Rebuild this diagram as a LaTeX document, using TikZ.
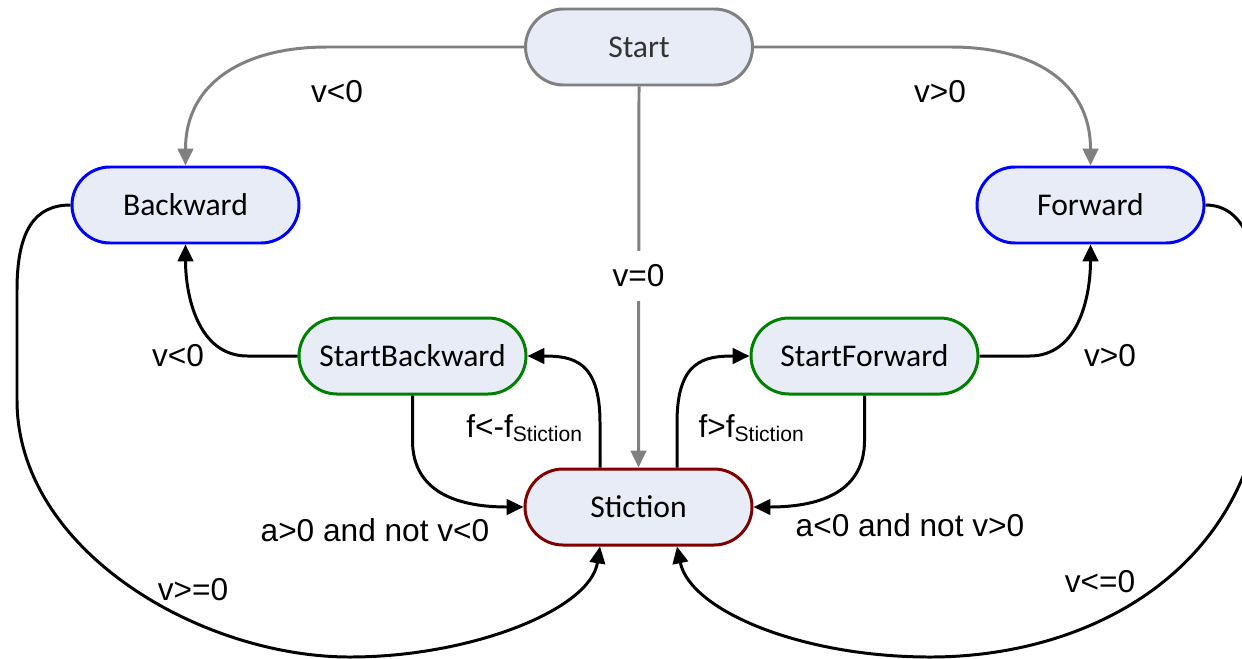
\documentclass[tikz,border=0pt]{standalone}
\usepackage{fontspec}
\usepackage{xcolor}
\usepackage{tikz}
\usetikzlibrary{arrows.meta,positioning,calc}
\newfontfamily\statefont{Carlito}
\newfontfamily\guardfont{Liberation Sans}
\definecolor{statefill}{RGB}{231,236,246}
\definecolor{stictionred}{RGB}{128,0,0}
\definecolor{startgreen}{RGB}{0,128,0}

\begin{document}
\begin{tikzpicture}[
    >={Triangle[length=4.8pt,width=4.4pt]},
    flow/.style={->,line width=0.85pt,draw=black},
    entry/.style={->,line width=0.85pt,draw=black!50,color=black!50},
    state/.style={draw,line width=0.85pt,fill=statefill,rounded corners=3.8mm,
      minimum width=2.27cm,minimum height=0.76cm,inner sep=0pt,
      font=\statefont\fontsize{9}{11}\selectfont},
    guard/.style={font=\guardfont\fontsize{9}{11}\selectfont,inner sep=1pt}
  ]
    \useasboundingbox (0,0) rectangle (12.42,-6.58);

    % States.
    \node[state,draw=black!50,text=black!80] (start) at (6.39,-0.47) {Start};
    \node[state,draw=blue] (backward) at (1.855,-2.05) {Backward};
    \node[state,draw=blue] (forward) at (10.905,-2.05) {Forward};
    \node[state,draw=startgreen] (startbwd) at (4.125,-3.56) {StartBackward};
    \node[state,draw=startgreen] (startfwd) at (8.645,-3.56) {StartForward};
    \node[state,draw=stictionred] (stiction) at (6.385,-5.07) {Stiction};

    % Leaving Start.
    \draw[entry] (start.west) -- ++(-1.97,0)
      .. controls +(-0.8,0) and +(0,0.85) .. (backward.north);
    \draw[entry] (start.east) -- ++(1.97,0)
      .. controls +(0.8,0) and +(0,0.85) .. (forward.north);
    \draw[entry] (start.south) -- (stiction.north);
    \node[guard] (lstartbwd) at (3.37,-0.92) {v<0};
    \node[guard] (lstartfwd) at (9.40,-0.92) {v>0};
    \node[guard,fill=white,inner ysep=4pt] (lstartstc) at (6.385,-2.76) {v=0};

    % StartBackward / StartForward to moving states.
    \draw[flow] (startbwd.west) -- ++(-0.5,0)
      .. controls +(-0.5,0) and +(0,-0.5) .. (backward.south);
    \draw[flow] (startfwd.east) -- ++(0.5,0)
      .. controls +(0.5,0) and +(0,-0.5) .. (forward.south);
    \node[guard] (lsbwd) at (1.78,-3.56) {v<0};
    \node[guard] (lsfwd) at (11.10,-3.56) {v>0};

    % Stiction breaks loose.
    \draw[flow] ([xshift=-3.85mm]stiction.north) -- ++(0,0.45)
      .. controls +(0,0.62) and +(0.45,0) .. (startbwd.east);
    \draw[flow] ([xshift=3.85mm]stiction.north) -- ++(0,0.45)
      .. controls +(0,0.62) and +(-0.45,0) .. (startfwd.west);
    \node[guard] (lbreakbwd) at (5.25,-4.28) {f<-f\textsubscript{Stiction}};
    \node[guard] (lbreakfwd) at (7.52,-4.28) {f>f\textsubscript{Stiction}};

    % Falling back into Stiction.
    \draw[flow] (startbwd.south) -- ++(0,-0.45)
      .. controls +(0,-0.55) and +(-0.6,0) .. (stiction.west);
    \draw[flow] (startfwd.south) -- ++(0,-0.45)
      .. controls +(0,-0.55) and +(0.6,0) .. (stiction.east);
    \node[guard] (lbackbwd) at (3.75,-5.30) {a>0 and not v<0};
    \node[guard] (lbackfwd) at (9.10,-5.25) {a<0 and not v>0};

    % Moving states stop.
    \draw[flow] (backward.west)
      .. controls (0.35,-2.05) and (0.17,-2.3) .. (0.17,-2.9)
      -- (0.17,-4.0)
      .. controls (0.17,-5.5) and (2.0,-6.57) .. (3.5,-6.57)
      .. controls (4.7,-6.57) and (5.9,-6.1) .. ([xshift=-3.85mm]stiction.south);
    \draw[flow] (forward.east)
      .. controls (12.45,-2.05) and (12.65,-2.5) .. (12.65,-3.6)
      .. controls (12.65,-5.6) and (11.0,-6.57) .. (9.3,-6.57)
      .. controls (8.0,-6.57) and (6.9,-6.1) .. ([xshift=3.85mm]stiction.south);
    \node[guard] (lstopbwd) at (1.93,-5.90) {v>=0};
    \node[guard] (lstopfwd) at (11.00,-5.82) {v<=0};
\end{tikzpicture}
\end{document}
